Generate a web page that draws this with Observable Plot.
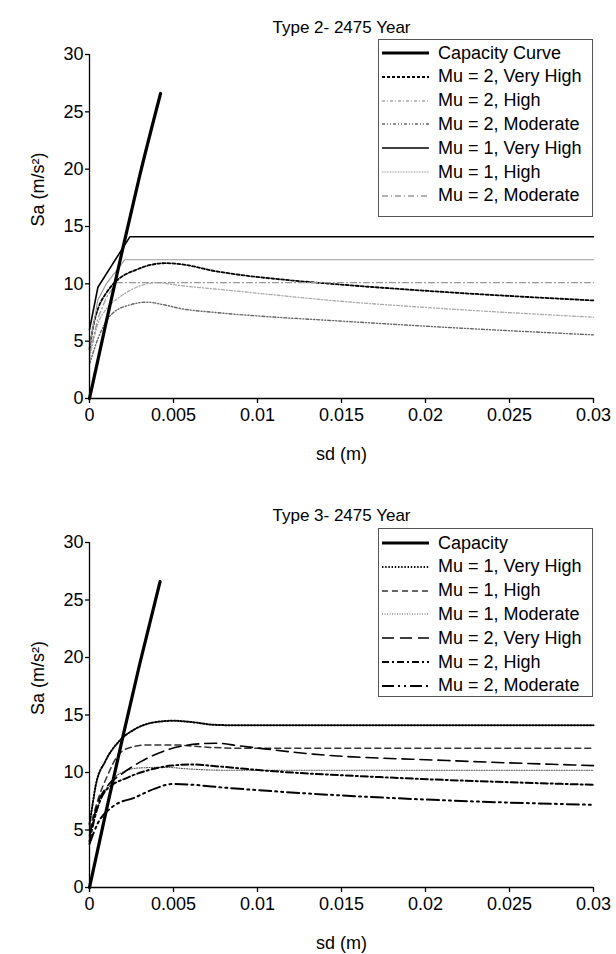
<!DOCTYPE html>
<html>
<head>
<meta charset="utf-8">
<script src="https://cdn.jsdelivr.net/npm/d3@7"></script>
<script src="https://cdn.jsdelivr.net/npm/@observablehq/plot@0.6"></script>
<style>
  html, body { margin:0; padding:0; background:#fff; }
  #wrap { position:relative; width:616px; height:954px; font-family:"Liberation Sans", Arial, sans-serif; }
  .chart { position:absolute; left:0; width:616px; }
  .legend { position:absolute; background:#fff; border:1px solid #555; box-sizing:border-box; }
  .row { position:absolute; left:0; height:24px; display:flex; align-items:center; font-size:18px; color:#000; white-space:nowrap; }
  .row svg { margin-left:3px; margin-right:9px; }
</style>
</head>
<body>
<div id="wrap"></div>
<script>
// ---------- axes ----------
const xTicks = [0, 0.005, 0.01, 0.015, 0.02, 0.025, 0.03];
const xTickLabels = ["0", "0.005", "0.01", "0.015", "0.02", "0.025", "0.03"];
const yTicks = [0, 5, 10, 15, 20, 25, 30];

// ---------- Type 2 - 2475 Year : [sd (m), Sa (m/s2)] ----------
const t2Capacity = [[0,0],[0.001,6.7],[0.002,13.2],[0.003,19.5],[0.00423,26.6]];
const t2Mu2VeryHigh = [[0,4.3],[0.00025,6.5],[0.00055,8.0],[0.001,9.2],[0.00145,10.05],[0.002,10.7],[0.00274,11.2],[0.0035,11.6],[0.0045,11.8],[0.0055,11.7],[0.0075,11.1],[0.0094,10.7],[0.012,10.3],[0.0144,10.0],[0.0213,9.27],[0.03,8.55]];
const t2Mu2High = [[0,3.5],[0.0005,6.5],[0.001,7.8],[0.00175,8.8],[0.0028,9.7],[0.004,10.1],[0.0054,9.85],[0.0075,9.55],[0.0094,9.27],[0.0144,8.55],[0.0213,7.82],[0.03,7.09]];
const t2Mu2Moderate = [[0,3.0],[0.0005,5.2],[0.00135,7.4],[0.0025,8.2],[0.0034,8.4],[0.0045,8.15],[0.0054,7.85],[0.0075,7.5],[0.01,7.2],[0.0144,6.8],[0.0213,6.2],[0.03,5.55]];
const t2Mu1VeryHigh = [[0,6.0],[0.0005,9.7],[0.0024,14.1],[0.03,14.1]];
const t2Mu1High = [[0,4.5],[0.0005,8.6],[0.001,10.0],[0.0021,12.1],[0.03,12.1]];
const t2Mu2Moderate2 = [[0,3.8],[0.0005,7.0],[0.001,8.8],[0.0016,10.1],[0.03,10.1]];

// ---------- Type 3 - 2475 Year ----------
const t3Capacity = [[0,0],[0.001,6.7],[0.002,13.2],[0.003,19.5],[0.0042,26.6]];
const t3Mu1VeryHigh = [[0,5.5],[0.00016,7.0],[0.00036,8.8],[0.00095,11.0],[0.00175,12.7],[0.00274,13.8],[0.0038,14.35],[0.005,14.5],[0.006,14.4],[0.0074,14.15],[0.009,14.1],[0.03,14.1]];
const t3Mu1High = [[0,5.0],[0.00055,7.85],[0.001,9.5],[0.00175,11.6],[0.0025,12.2],[0.0035,12.4],[0.005,12.4],[0.007,12.2],[0.009,12.1],[0.03,12.1]];
const t3Mu1Moderate = [[0,4.8],[0.0005,7.0],[0.001,8.6],[0.0018,9.9],[0.003,10.4],[0.0045,10.45],[0.006,10.3],[0.008,10.2],[0.03,10.2]];
const t3Mu2VeryHigh = [[0,4.5],[0.00055,7.56],[0.001,8.7],[0.00195,9.9],[0.003,10.9],[0.0047,12.0],[0.0066,12.5],[0.0075,12.55],[0.009,12.3],[0.0133,11.6],[0.0213,11.04],[0.03,10.6]];
const t3Mu2High = [[0,4.0],[0.0003,6.0],[0.00095,8.4],[0.00234,9.6],[0.0035,10.2],[0.0049,10.6],[0.006,10.7],[0.0075,10.55],[0.0104,10.17],[0.0173,9.6],[0.03,8.93]];
const t3Mu2Moderate = [[0,3.8],[0.0005,5.6],[0.00135,7.0],[0.00274,7.85],[0.0039,8.6],[0.0049,9.0],[0.006,8.95],[0.0075,8.75],[0.0133,8.15],[0.0213,7.57],[0.03,7.19]];

const t2Series = [
  {name:"Capacity Curve", data:t2Capacity, color:"#000", width:3.2, dash:null, curve:"monotone-x", top:true},
  {name:"Mu = 2, Very High", data:t2Mu2VeryHigh, color:"#000", width:1.8, dash:"3,2", curve:"monotone-x"},
  {name:"Mu = 2, High", data:t2Mu2High, color:"#aaa", width:1.3, dash:"3,2,1,2", curve:"monotone-x"},
  {name:"Mu = 2, Moderate", data:t2Mu2Moderate, color:"#666", width:1.4, dash:"3,2,1,2,1,2", curve:"monotone-x"},
  {name:"Mu = 1, Very High", data:t2Mu1VeryHigh, color:"#000", width:1.6, dash:null, curve:"linear"},
  {name:"Mu = 1, High", data:t2Mu1High, color:"#999", width:1.2, dash:"1,0.6", curve:"linear"},
  {name:"Mu = 2, Moderate", data:t2Mu2Moderate2, color:"#999", width:1.3, dash:"6,3,1,3", curve:"linear"}
];
const t3Series = [
  {name:"Capacity", data:t3Capacity, color:"#000", width:3.2, dash:null, curve:"monotone-x", top:true},
  {name:"Mu = 1, Very High", data:t3Mu1VeryHigh, color:"#000", width:2, dash:"1.4,1.8", curve:"monotone-x"},
  {name:"Mu = 1, High", data:t3Mu1High, color:"#333", width:1.5, dash:"6,4", curve:"monotone-x"},
  {name:"Mu = 1, Moderate", data:t3Mu1Moderate, color:"#555", width:1.1, dash:"1,1.5", curve:"monotone-x"},
  {name:"Mu = 2, Very High", data:t3Mu2VeryHigh, color:"#000", width:1.6, dash:"12,6", curve:"monotone-x"},
  {name:"Mu = 2, High", data:t3Mu2High, color:"#000", width:2, dash:"7,3,2,3", curve:"monotone-x"},
  {name:"Mu = 2, Moderate", data:t3Mu2Moderate, color:"#000", width:2, dash:"12,4,2,4,2,4", curve:"monotone-x"}
];

function makeChart(title, series, marginTop, marginBottom) {
  const lineMarks = [...series.filter(s => !s.top), ...series.filter(s => s.top)].map(s =>
    Plot.line(s.data, {x: d => d[0], y: d => d[1], stroke: s.color, strokeWidth: s.width,
      strokeDasharray: s.dash || undefined, curve: s.curve}));
  return Plot.plot({
    width: 616, height: 477,
    marginLeft: 89, marginRight: 23, marginTop, marginBottom,
    x: {domain: [0, 0.03]},
    y: {domain: [0, 30]},
    style: {fontSize: "18px", fontFamily: "Liberation Sans, Arial, sans-serif", color: "#000", background: "#fff", overflow: "visible"},
    marks: [
      ...lineMarks,
      Plot.ruleY([0], {stroke: "#000", strokeWidth: 1.3}),
      Plot.ruleX([0], {stroke: "#000", strokeWidth: 1.3}),
      Plot.axisX({ticks: xTicks, tickFormat: d => xTickLabels[xTicks.indexOf(d)], tickSize: 5, tickPadding: 5, label: null, strokeWidth: 1.3}),
      Plot.axisY({ticks: yTicks, tickSize: 4, tickPadding: 2, label: null, strokeWidth: 1.3}),
      Plot.text([title], {text: d => d, frameAnchor: "top", dy: -34, fontSize: 17}),
      Plot.text(["sd (m)"], {text: d => d, frameAnchor: "bottom", dy: 61}),
      Plot.text(["Sa (m/s²)"], {text: d => d, frameAnchor: "left", dx: -51, rotate: -90})
    ]
  });
}

function makeLegend(series, left, top, width, height, firstRow) {
  const box = document.createElement("div");
  box.className = "legend";
  Object.assign(box.style, {left: left + "px", top: top + "px", width: width + "px", height: height + "px"});
  series.forEach((s, i) => {
    const row = document.createElement("div");
    row.className = "row";
    row.style.top = (firstRow + i * 23.8 - 12) + "px";
    const ns = "http://www.w3.org/2000/svg";
    const svg = document.createElementNS(ns, "svg");
    svg.setAttribute("width", 47); svg.setAttribute("height", 10);
    const ln = document.createElementNS(ns, "line");
    ln.setAttribute("x1", 0); ln.setAttribute("x2", 47); ln.setAttribute("y1", 5); ln.setAttribute("y2", 5);
    ln.setAttribute("stroke", s.color); ln.setAttribute("stroke-width", s.width);
    if (s.dash) ln.setAttribute("stroke-dasharray", s.dash);
    svg.appendChild(ln);
    row.appendChild(svg);
    const t = document.createElement("span");
    t.textContent = s.name;
    row.appendChild(t);
    box.appendChild(row);
  });
  return box;
}

const wrap = document.getElementById("wrap");
const c1 = document.createElement("div"); c1.className = "chart"; c1.style.top = "0px";
c1.appendChild(makeChart("Type 2- 2475 Year", t2Series, 54, 79));
wrap.appendChild(c1);
const c2 = document.createElement("div"); c2.className = "chart"; c2.style.top = "477px";
c2.appendChild(makeChart("Type 3- 2475 Year", t3Series, 65, 67));
wrap.appendChild(c2);
wrap.appendChild(makeLegend(t2Series, 378, 39, 215, 178, 13));
wrap.appendChild(makeLegend(t3Series, 378, 528, 215, 169, 14));
</script>
</body>
</html>
